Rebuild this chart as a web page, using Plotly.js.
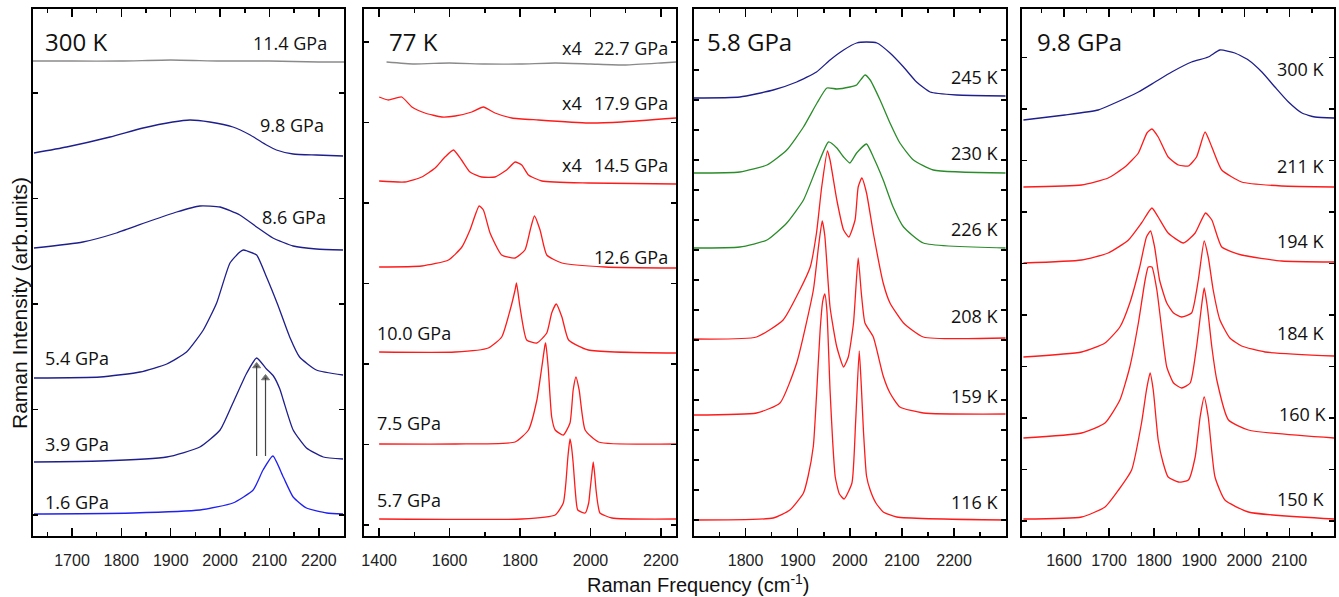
<!DOCTYPE html>
<html>
<head>
<meta charset="utf-8">
<script src="https://cdn.plot.ly/plotly-3.0.1.min.js"></script>
<style>html,body{margin:0;padding:0;background:#fff}#chart{width:1339px;height:597px}</style>
</head>
<body>
<div id="chart"></div>
<script>
// ---------------- Panel 1 : 300 K (pressure series) ----------------
const p1_x_114 = [1621, 1700, 1800, 1900, 2000, 2100, 2200, 2251];
const p1_y_114 = [475, 475, 475, 476, 475, 475, 474, 474];
const p1_x_98 = [1623, 1689, 1777, 1844, 1904, 1939, 1979, 2026, 2061, 2094, 2114, 2148, 2195, 2249];
const p1_y_98 = [383, 389, 399, 408, 414, 416, 414, 409, 401, 391, 386, 382, 381, 380];
const p1_x_86 = [1623, 1722, 1790, 1858, 1912, 1959, 2000, 2040, 2074, 2107, 2148, 2195, 2249];
const p1_y_86 = [288, 294, 303, 315, 324, 330, 329, 321, 309, 298, 290, 287, 286];
const p1_x_54 = [1623, 1757, 1838, 1892, 1932, 1966, 1993, 2020, 2040, 2047, 2055, 2074, 2094, 2117, 2141, 2161, 2195, 2249];
const p1_y_54 = [158, 159, 164, 172, 184, 206, 233, 273, 284, 286, 285, 281, 259, 231, 199, 179, 166, 161];
const p1_x_39 = [1623, 1757, 1892, 1959, 2000, 2026, 2054, 2074, 2094, 2108, 2121, 2128, 2148, 2175, 2209, 2249];
const p1_y_39 = [74, 75, 79, 89, 106, 133, 163, 178, 167, 160, 147, 136, 106, 88, 79, 77];
const p1_x_16 = [1623, 1824, 1959, 2026, 2067, 2087, 2107, 2128, 2148, 2175, 2216, 2249];
const p1_y_16 = [22, 23, 26, 33, 46, 66, 80, 59, 39, 28, 23, 22];
const arrowX = [2074, 2092];
const arrowTop = [170, 158];
const arrowBase = 80;

// ---------------- Panel 2 : 77 K (pressure series) ----------------
const p2_x_227 = [1421, 1500, 1600, 1700, 1800, 1900, 2000, 2100, 2200, 2243];
const p2_y_227 = [474, 472, 473, 472, 472, 473, 472, 471, 473, 474];
const p2_x_179 = [1400, 1426, 1464, 1493, 1530, 1578, 1616, 1663, 1696, 1729, 1777, 1852, 1994, 2089, 2243];
const p2_y_179 = [439, 436, 439, 429, 423, 419, 420, 424, 429, 423, 418, 416, 413, 414, 418];
const p2_x_145 = [1400, 1473, 1521, 1559, 1587, 1611, 1634, 1658, 1691, 1729, 1762, 1786, 1805, 1824, 1862, 1994, 2243];
const p2_y_145 = [355, 354, 359, 368, 379, 386, 376, 364, 359, 359, 366, 374, 371, 361, 355, 353, 352];
const p2_x_126 = [1400, 1521, 1597, 1635, 1658, 1684, 1696, 1715, 1748, 1786, 1814, 1829, 1841, 1857, 1876, 1919, 2042, 2243];
const p2_y_126 = [269, 270, 276, 289, 306, 330, 326, 303, 281, 278, 286, 306, 320, 306, 281, 273, 269, 268];
const p2_x_100 = [1400, 1616, 1710, 1748, 1772, 1786, 1790, 1800, 1819, 1848, 1876, 1890, 1903, 1919, 1938, 1994, 2243];
const p2_y_100 = [184, 184, 188, 199, 226, 246, 253, 229, 196, 193, 203, 223, 232, 219, 196, 186, 183];
const p2_x_75 = [1400, 1616, 1786, 1824, 1848, 1862, 1871, 1873, 1880, 1890, 1900, 1923, 1942, 1951, 1959, 1968, 1985, 2023, 2243];
const p2_y_75 = [92, 92, 94, 106, 136, 169, 191, 193, 169, 119, 106, 101, 113, 146, 159, 146, 106, 94, 92];
const p2_x_57 = [1400, 1805, 1900, 1923, 1930, 1936, 1942, 1946, 1951, 1957, 1964, 1985, 1995, 1999, 2004, 2008, 2012, 2016, 2022, 2027, 2061, 2243];
const p2_y_57 = [17, 17, 21, 33, 52, 79, 97, 90, 73, 45, 26, 23, 33, 46, 62, 74, 62, 46, 30, 23, 18, 17];

// ---------------- Panel 3 : 5.8 GPa (temperature series) ----------------
const p3_x_245 = [1701, 1789, 1853, 1898, 1936, 1962, 1988, 2013, 2032, 2052, 2077, 2103, 2128, 2154, 2205, 2299];
const p3_y_245 = [438, 439, 446, 454, 464, 476, 486, 493, 494, 493, 483, 469, 454, 444, 441, 440];
const p3_x_230 = [1701, 1789, 1841, 1879, 1911, 1937, 1956, 1975, 2000, 2013, 2029, 2039, 2058, 2077, 2096, 2122, 2160, 2299];
const p3_y_230 = [363, 364, 371, 386, 409, 433, 448, 447, 449, 451, 461, 456, 436, 413, 393, 376, 366, 363];
const p3_x_226 = [1701, 1789, 1841, 1879, 1911, 1937, 1959, 1975, 1988, 2000, 2013, 2032, 2045, 2064, 2083, 2103, 2141, 2299];
const p3_y_226 = [288, 289, 296, 313, 336, 369, 394, 388, 379, 373, 383, 392, 379, 356, 329, 309, 293, 288];
const p3_x_208 = [1701, 1821, 1872, 1904, 1924, 1936, 1946, 1957, 1962, 1975, 1988, 1998, 2010, 2016, 2023, 2032, 2045, 2064, 2077, 2103, 2141, 2299];
const p3_y_208 = [197, 199, 216, 246, 269, 303, 349, 385, 376, 336, 306, 299, 316, 349, 358, 343, 303, 253, 233, 213, 199, 198];
const p3_x_159 = [1701, 1821, 1866, 1898, 1930, 1940, 1947, 1952, 1962, 1975, 1988, 1997, 2007, 2016, 2022, 2029, 2045, 2064, 2077, 2096, 2141, 2299];
const p3_y_159 = [121, 123, 133, 173, 246, 290, 315, 300, 229, 189, 169, 179, 213, 278, 243, 213, 199, 160, 143, 129, 123, 122];
const p3_x_116 = [1701, 1853, 1885, 1911, 1920, 1930, 1936, 1943, 1948, 1952, 1956, 1962, 1967, 1972, 1980, 1989, 2004, 2011, 2018, 2022, 2026, 2032, 2039, 2050, 2064, 2090, 2299];
const p3_y_116 = [16, 18, 26, 43, 60, 90, 140, 206, 235, 242, 225, 146, 95, 59, 42, 37, 53, 113, 185, 150, 106, 60, 46, 33, 24, 19, 16];

// ---------------- Panel 4 : 9.8 GPa (temperature series) ----------------
const p4_x_300 = [1510, 1602, 1676, 1713, 1765, 1802, 1839, 1883, 1920, 1946, 1979, 2009, 2039, 2068, 2098, 2128, 2157, 2199];
const p4_y_300 = [416, 421, 426, 433, 444, 454, 464, 474, 479, 486, 483, 476, 464, 449, 434, 423, 419, 418];
const p4_x_211 = [1510, 1639, 1698, 1735, 1765, 1784, 1795, 1809, 1831, 1854, 1876, 1894, 1913, 1928, 1950, 1994, 2083, 2199];
const p4_y_211 = [349, 351, 358, 369, 383, 403, 407, 399, 379, 371, 370, 379, 404, 389, 366, 354, 350, 349];
const p4_x_194 = [1510, 1639, 1698, 1743, 1772, 1795, 1809, 1831, 1865, 1891, 1914, 1928, 1950, 1994, 2083, 2199];
const p4_y_194 = [273, 276, 283, 296, 313, 328, 319, 303, 293, 303, 323, 316, 289, 281, 275, 274];
const p4_x_184 = [1510, 1639, 1691, 1724, 1746, 1768, 1783, 1792, 1801, 1812, 1828, 1843, 1861, 1883, 1898, 1911, 1920, 1931, 1946, 1968, 1994, 2046, 2199];
const p4_y_184 = [179, 184, 193, 209, 233, 269, 299, 305, 289, 256, 233, 223, 219, 223, 256, 295, 279, 246, 216, 198, 190, 184, 180];
const p4_x_160 = [1510, 1639, 1691, 1724, 1746, 1765, 1780, 1787, 1795, 1806, 1817, 1828, 1843, 1861, 1880, 1894, 1906, 1911, 1918, 1928, 1939, 1965, 2009, 2199];
const p4_y_160 = [98, 103, 113, 136, 169, 213, 256, 269, 269, 246, 206, 169, 153, 148, 153, 189, 233, 248, 229, 189, 156, 116, 106, 98];
const p4_x_150 = [1510, 1639, 1691, 1721, 1750, 1772, 1783, 1791, 1798, 1809, 1820, 1831, 1854, 1876, 1891, 1902, 1911, 1920, 1935, 1957, 2009, 2199];
const p4_y_150 = [17, 19, 29, 46, 66, 113, 146, 163, 146, 96, 73, 59, 54, 56, 79, 119, 139, 119, 59, 36, 24, 17];

// ---------------- styles ----------------
const GRAY = '#8a8a8a', NAVY = '#1e1e8c', BLUE = '#2020f0', RED = '#ff1a1a', GREEN = '#2a8c2a';
const W = 1339, H = 597;

function tr(x, y, color, n) {
  return {x: x, y: y, type: 'scatter', mode: 'lines', xaxis: 'x' + (n === 1 ? '' : n), yaxis: 'y' + (n === 1 ? '' : n),
    line: {color: color, width: 1.3, shape: 'spline', smoothing: 0.5}, hoverinfo: 'skip', showlegend: false};
}

const data = [
  tr(p1_x_114, p1_y_114, GRAY, 1), tr(p1_x_98, p1_y_98, NAVY, 1), tr(p1_x_86, p1_y_86, NAVY, 1),
  tr(p1_x_54, p1_y_54, NAVY, 1), tr(p1_x_39, p1_y_39, NAVY, 1), tr(p1_x_16, p1_y_16, BLUE, 1),
  tr(p2_x_227, p2_y_227, GRAY, 2), tr(p2_x_179, p2_y_179, RED, 2), tr(p2_x_145, p2_y_145, RED, 2),
  tr(p2_x_126, p2_y_126, RED, 2), tr(p2_x_100, p2_y_100, RED, 2), tr(p2_x_75, p2_y_75, RED, 2), tr(p2_x_57, p2_y_57, RED, 2),
  tr(p3_x_245, p3_y_245, NAVY, 3), tr(p3_x_230, p3_y_230, GREEN, 3), tr(p3_x_226, p3_y_226, GREEN, 3),
  tr(p3_x_208, p3_y_208, RED, 3), tr(p3_x_159, p3_y_159, RED, 3), tr(p3_x_116, p3_y_116, RED, 3),
  tr(p4_x_300, p4_y_300, NAVY, 4), tr(p4_x_211, p4_y_211, RED, 4), tr(p4_x_194, p4_y_194, RED, 4),
  tr(p4_x_184, p4_y_184, RED, 4), tr(p4_x_160, p4_y_160, RED, 4), tr(p4_x_150, p4_y_150, RED, 4)
];

// arrows in panel 1 drawn as line traces with a triangle head
arrowX.forEach((ax, i) => {
  data.push({x: [ax, ax], y: [arrowBase, arrowTop[i]], type: 'scatter', mode: 'lines+markers', xaxis: 'x', yaxis: 'y',
    line: {color: '#444', width: 1.2}, marker: {symbol: 'triangle-up', size: [0, 7], color: '#222'},
    hoverinfo: 'skip', showlegend: false});
});

const panels = [
  {l: 33, r: 344, range: [1621, 2251], dtick: 100, tick0: 1600, minor: 50, y0: 21, dy: 105.5},
  {l: 364, r: 676, range: [1357, 2243], dtick: 200, tick0: 1400, minor: 100, y0: 11, dy: 80.5},
  {l: 694, r: 1005.7, range: [1701, 2299], dtick: 100, tick0: 1700, minor: 50, y0: 16, dy: 30},
  {l: 1022.3, r: 1334, range: [1507.5, 2199], dtick: 100, tick0: 1500, minor: 50, y0: 15, dy: 51.5}
];
const TOP = 9, BOT = 536;

const layout = {
  width: W, height: H, margin: {l: 0, r: 0, t: 0, b: 0}, paper_bgcolor: '#fff', plot_bgcolor: '#fff',
  showlegend: false, annotations: []
};
panels.forEach((p, i) => {
  const s = i === 0 ? '' : (i + 1);
  layout['xaxis' + s] = {
    domain: [p.l / W, p.r / W], anchor: 'y' + s, range: p.range, tickmode: 'linear', tick0: p.tick0, dtick: p.dtick,
    ticks: 'inside', ticklen: 8, tickwidth: 1.5, tickcolor: '#000', showline: true, linecolor: '#000', linewidth: 2,
    mirror: 'ticks', showgrid: false, zeroline: false, ticklabelstandoff: 9,
    tickfont: {family: 'Liberation Sans, Arial, sans-serif', size: 16, color: '#222'},
    minor: {ticks: 'inside', ticklen: 4, tickwidth: 1.5, tickcolor: '#000', dtick: p.minor, tick0: p.tick0, showgrid: false}
  };
  layout['yaxis' + s] = {
    domain: [(H - BOT) / H, (H - TOP) / H], anchor: 'x' + s, range: [0, BOT - TOP], tickmode: 'linear', tick0: p.y0, dtick: p.dy,
    ticks: 'inside', ticklen: 5, tickwidth: 1.5, tickcolor: '#000', showline: true, linecolor: '#000', linewidth: 2,
    mirror: 'ticks', showgrid: false, zeroline: false, showticklabels: false
  };
});

const LF = 'Open Sans, sans-serif';
function lab(text, px, py, anchor, size) {
  layout.annotations.push({text: text, xref: 'paper', yref: 'paper', x: px / W, y: 1 - py / H,
    xanchor: anchor, yanchor: 'middle', showarrow: false, font: {family: LF, size: size || 18, color: '#111'}});
}
// panel titles
lab('300 K', 43, 41, 'left', 24);
lab('77 K', 387, 42, 'left', 24);
lab('5.8 GPa', 705, 42, 'left', 24);
lab('9.8 GPa', 1035, 42, 'left', 24);
// panel 1 labels
lab('11.4 GPa', 329, 43, 'right');
lab('9.8 GPa', 326, 125, 'right');
lab('8.6 GPa', 328, 217, 'right');
lab('5.4 GPa', 43, 358, 'left');
lab('3.9 GPa', 43, 444, 'left');
lab('1.6 GPa', 43, 502, 'left');
// panel 2 labels
lab('x4', 560, 48, 'left'); lab('22.7 GPa', 670, 48, 'right');
lab('x4', 560, 103, 'left'); lab('17.9 GPa', 670, 103, 'right');
lab('x4', 560, 165, 'left'); lab('14.5 GPa', 670, 165, 'right');
lab('12.6 GPa', 670, 257, 'right');
lab('10.0 GPa', 375, 333, 'left');
lab('7.5 GPa', 375, 423, 'left');
lab('5.7 GPa', 375, 500, 'left');
// panel 3 labels
lab('245 K', 1001, 77, 'right');
lab('230 K', 1001, 153, 'right');
lab('226 K', 1001, 229, 'right');
lab('208 K', 1001, 316, 'right');
lab('159 K', 1001, 396, 'right');
lab('116 K', 1001, 502, 'right');
// panel 4 labels
lab('300 K', 1327, 69, 'right');
lab('211 K', 1327, 166, 'right');
lab('194 K', 1327, 241, 'right');
lab('184 K', 1327, 333, 'right');
lab('160 K', 1329, 414, 'right');
lab('150 K', 1327, 499, 'right');

// axis titles
layout.annotations.push({text: 'Raman Intensity (arb.units)', xref: 'paper', yref: 'paper', x: 19 / W, y: 1 - 303 / H,
  xanchor: 'center', yanchor: 'middle', textangle: -90, showarrow: false,
  font: {family: 'Liberation Sans, Arial, sans-serif', size: 21, color: '#111'}});
layout.annotations.push({text: 'Raman Frequency (cm<sup>-1</sup>)', xref: 'paper', yref: 'paper', x: 698 / W, y: 1 - 583 / H,
  xanchor: 'center', yanchor: 'middle', showarrow: false,
  font: {family: 'Liberation Sans, Arial, sans-serif', size: 20, color: '#111'}});

Plotly.newPlot('chart', data, layout, {staticPlot: true, displayModeBar: false});
</script>
</body>
</html>
